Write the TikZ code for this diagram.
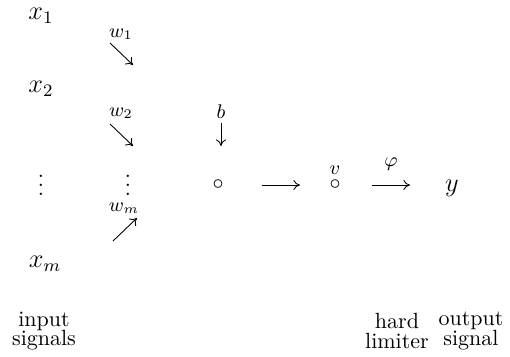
\documentclass[tikz,border=0pt]{standalone}
\usetikzlibrary{arrows.meta}

\begin{document}
\begin{tikzpicture}[x=0.4545pt,y=-0.4545pt,
  lbl/.style={inner sep=0pt},
  xlbl/.style={inner sep=0pt,font=\large},
  wlbl/.style={inner sep=0pt,font=\small},
  arr/.style={-{To[length=3pt,width=4.5pt]},line width=0.4pt}]
\useasboundingbox (0,0) rectangle (510,356);

% inputs
\node[xlbl] (x1) at (41,16) {$x_1$};
\node[xlbl] (x2) at (41,89) {$x_2$};
\node[lbl] (xdots) at (41,179) {$\vdots$};
\node[xlbl] (xm) at (45,264) {$x_m$};

% weights
\node[wlbl] (w1) at (121,34) {$w_1$};
\node[wlbl] (w2) at (121,113) {$w_2$};
\node[lbl] (wdots) at (128,179) {$\vdots$};
\node[wlbl] (wm) at (124,208) {$w_m$};
\coordinate (w1a) at (110,43);
\coordinate (w1b) at (133,65);
\coordinate (w2a) at (110,124);
\coordinate (w2b) at (133,146);
\coordinate (wma) at (113,241);
\coordinate (wmb) at (137,218);
\draw[arr] (w1a) -- (w1b);
\draw[arr] (w2a) -- (w2b);
\draw[arr] (wma) -- (wmb);

% bias and summing point
\node[wlbl] (b) at (221,112) {$b$};
\coordinate (ba) at (221,123);
\coordinate (bb) at (221,146);
\draw[arr] (ba) -- (bb);
\node[lbl] (sum) at (218,185) {$\circ$};
\node[lbl] (vc) at (335,185) {$\circ$};
\node[wlbl] (v) at (335,170) {$v$};
\coordinate (sa) at (262,185);
\coordinate (sb) at (300,185);
\draw[arr] (sa) -- (sb);

% limiter and output
\coordinate (pa) at (372,185);
\coordinate (pb) at (410,185);
\draw[arr] (pa) -- (pb) node[midway,above=3pt,font=\small] (phi) {$\varphi$};
\node[xlbl] (y) at (452,188) {$y$};

\node[lbl,align=center] (inp) at (44,331) {input\\[-3pt] signals};
\node[lbl,align=center] (lim) at (397,331) {hard\\[-3pt] limiter};
\node[lbl,align=center] (out) at (471,331) {output\\[-3pt] signal};
\end{tikzpicture}
\end{document}
